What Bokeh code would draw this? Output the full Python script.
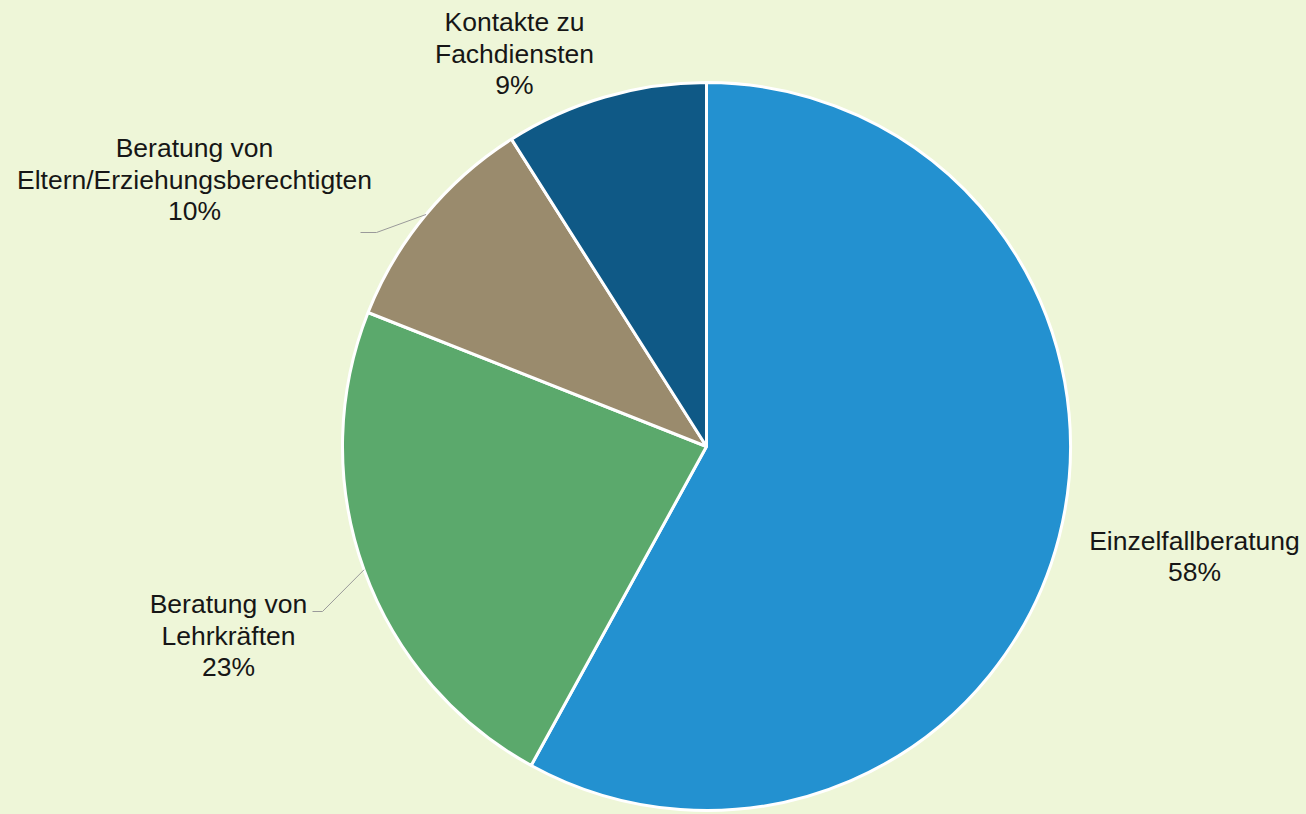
import math
from bokeh.plotting import figure
from bokeh.models import Range1d, ColumnDataSource
from bokeh.core.properties import value
from bokeh.embed import file_html
from bokeh.resources import INLINE

# ---- data ----
categories = ["Einzelfallberatung", "Beratung von Lehrkräften",
              "Beratung von Eltern/Erziehungsberechtigten", "Kontakte zu Fachdiensten"]
label_texts = ["Einzelfallberatung\n58%", "Beratung von\nLehrkräften\n23%",
               "Beratung von\nEltern/Erziehungsberechtigten\n10%", "Kontakte zu\nFachdiensten\n9%"]
percent = [58, 23, 10, 9]
colors = ["#2391d0", "#5ba96c", "#9a8b6d", "#0f5986"]

# ---- layout (pixel-like data coords; y = 814 - screen y) ----
W, H = 1306, 814
BG = "#eef6d8"
cx, cy, R = 706, 814 - 446, 364
label_pos = [(1194, 814 - 556), (228, 814 - 635), (194, 814 - 179), (514, 814 - 53)]
leader_elbow = {1: (322, 814 - 611, 312), 2: (376, 814 - 232, 360)}

total = sum(percent)
starts, ends, mids = [], [], []
a = math.pi / 2
for v in percent:
    da = v / total * 2 * math.pi
    starts.append(a - da)
    ends.append(a)
    mids.append(a - da / 2)
    a -= da

p = figure(width=W, height=H, output_backend="svg", toolbar_location=None,
           x_range=Range1d(0, W), y_range=Range1d(0, H),
           min_border=0, outline_line_color=None,
           background_fill_color=BG, border_fill_color=BG)
p.axis.visible = False
p.grid.visible = False

src = ColumnDataSource(dict(start=starts, end=ends, color=colors, cat=categories))
p.wedge(x=cx, y=cy, radius=R, start_angle="start", end_angle="end",
        fill_color="color", line_color="white", line_width=3, source=src)

# leader lines for two labels
for i, (ex, ey, lx) in leader_elbow.items():
    px = cx + R * math.cos(mids[i])
    py = cy + R * math.sin(mids[i])
    p.line([px, ex, lx], [py, ey, ey], line_color="#9a9a9a", line_width=1)

lsrc = ColumnDataSource(dict(x=[q[0] for q in label_pos], y=[q[1] for q in label_pos], t=label_texts))
p.text(x="x", y="y", text="t", source=lsrc, text_align="center", text_baseline="middle",
       text_font=value("Liberation Sans"), text_font_size="26.5px", text_color="#161616",
       text_line_height=1.05)

html = file_html(p, INLINE)
html = html.replace("<head>", "<head><style>html,body{background:%s;margin:0;padding:0;overflow:hidden;}</style>" % BG, 1)
open("out.html", "w").write(html)
